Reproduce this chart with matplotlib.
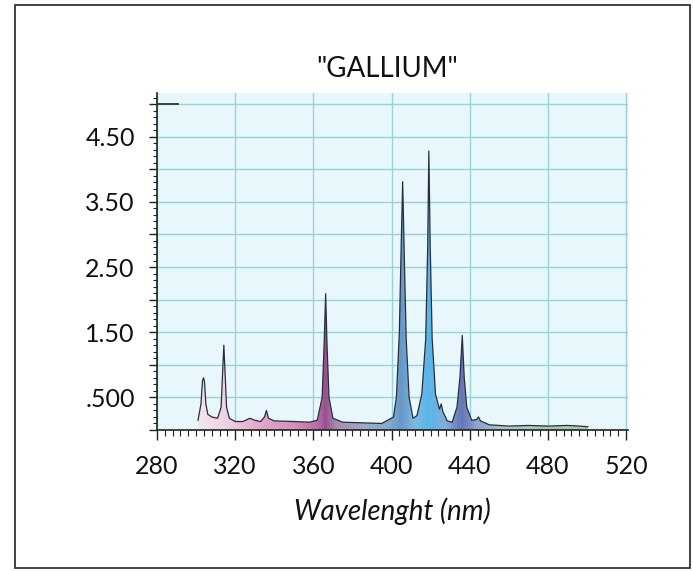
import numpy as np
import matplotlib
matplotlib.use("Agg")
import matplotlib.pyplot as plt
from matplotlib.colors import LinearSegmentedColormap
from matplotlib.patches import Rectangle

plt.rcParams['font.family'] = ['Lato', 'DejaVu Sans']

# spectrum (wavelength nm, intensity)
wavelength = [301.0, 302.5, 303.3, 303.8, 304.3, 305.0, 306.0, 308.0, 311.0,
              312.8, 313.6, 314.2, 314.8, 315.6, 317.0, 320.0, 324.0, 327.5,
              330.0, 333.0, 335.0, 336.0, 337.0, 340.0, 350.0, 358.0, 362.0,
              364.5, 365.5, 366.3, 367.0, 368.0, 370.0, 375.0, 385.0, 395.0,
              401.0, 402.5, 404.0, 405.0, 405.7, 406.5, 407.5, 409.0, 411.0,
              413.0, 415.5, 417.5, 418.5, 419.1, 419.8, 420.8, 422.5, 424.5,
              425.4, 426.3, 428.5, 431.0, 433.5, 435.0, 436.2, 437.2, 438.5,
              441.0, 443.5, 444.5, 445.5, 450.0, 460.0, 470.0, 480.0, 490.0,
              496.0, 500.5]
intensity = [0.15, 0.40, 0.76, 0.80, 0.74, 0.40, 0.24, 0.20, 0.18,
             0.35, 0.90, 1.30, 0.90, 0.35, 0.18, 0.13, 0.13, 0.18,
             0.15, 0.13, 0.20, 0.30, 0.18, 0.14, 0.13, 0.12, 0.15,
             0.50, 1.30, 2.09, 1.30, 0.50, 0.18, 0.12, 0.11, 0.10,
             0.20, 0.50, 1.50, 2.90, 3.81, 2.70, 1.40, 0.50, 0.18,
             0.22, 0.55, 1.40, 2.80, 4.28, 2.80, 1.40, 0.55, 0.32,
             0.40, 0.28, 0.14, 0.12, 0.35, 0.80, 1.45, 0.80, 0.35,
             0.15, 0.16, 0.20, 0.14, 0.08, 0.06, 0.07, 0.06, 0.07,
             0.06, 0.05]

# fill colour along the wavelength axis
color_nm = [280, 300, 318, 330, 350, 362, 366, 372, 385, 398, 405, 412,
            419, 428, 436, 444, 460, 480, 521]
color_hex = ['#f4e6ef', '#f4e6ef', '#eecbdd', '#e3a8ca', '#d08cb8', '#b46aa0',
             '#95478a', '#a886ae', '#9ea6c2', '#84a6cc', '#5f93c6', '#7ab6de',
             '#52b3e8', '#7ea9d8', '#5d6fb3', '#8a9fca', '#a9c9c2', '#9fcaa9',
             '#a8d4b0']

x_ticks = [280, 320, 360, 400, 440, 480, 520]
y_ticks = [0, 0.5, 1.0, 1.5, 2.0, 2.5, 3.0, 3.5, 4.0, 4.5, 5.0]
y_labels = ['', '.500', '', '1.50', '', '2.50', '', '3.50', '', '4.50', '']

fig = plt.figure(figsize=(6.93, 5.71), dpi=100)
ax = fig.add_axes([157 / 693, 141 / 571, 471 / 693, 337 / 571])

x0, x1, y0, y1 = 280, 521, 0, 5.17
ax.set_xlim(x0, x1)
ax.set_ylim(y0, y1)
ax.set_facecolor('#e7f7fb')

stops = [(c - x0) / (x1 - x0) for c in color_nm]
cmap = LinearSegmentedColormap.from_list('spec', list(zip(stops, color_hex)))

fill = ax.fill_between(wavelength, intensity, 0, color='none', zorder=2)
grad = np.linspace(0, 1, 600).reshape(1, -1)
img = ax.imshow(grad, extent=[x0, x1, y0, y1], aspect='auto', cmap=cmap,
                zorder=2, alpha=0.95)
img.set_clip_path(fill.get_paths()[0], transform=ax.transData)
ax.plot(wavelength, intensity, color='#2b2d3c', lw=0.9, zorder=3)

ax.set_xticks(x_ticks)
ax.set_xticks(np.arange(280, 521, 4), minor=True)
ax.set_yticks(y_ticks, labels=y_labels)
ax.set_yticks(np.arange(0, 5.15, 0.1), minor=True)

ax.grid(True, which='major', color='#9dd2d5', lw=1.0)
ax.set_axisbelow(True)
# short dark marker at the top of the y scale
ax.axhline(y_ticks[-1], xmin=0, xmax=0.045, color='#333333', lw=1.3, zorder=3)

for s in ['top', 'right']:
    ax.spines[s].set_visible(False)
for s in ['left', 'bottom']:
    ax.spines[s].set_color('#222222')
    ax.spines[s].set_linewidth(1.2)

ax.tick_params(axis='x', which='major', direction='out', length=7, width=1.0,
               labelsize=18, pad=11, colors='#222222')
ax.tick_params(axis='x', which='minor', direction='out', length=4, width=0.8,
               colors='#222222')
ax.tick_params(axis='y', which='major', direction='out', length=6, width=1.0,
               labelsize=18, pad=10, colors='#222222')
ax.tick_params(axis='y', which='minor', direction='out', length=3, width=0.8,
               colors='#222222')
for lab in ax.get_xticklabels() + ax.get_yticklabels():
    lab.set_color('#111111')

ax.set_xlabel('Wavelenght (nm)', fontsize=20, style='italic', labelpad=14,
              color='#111111')
fig.text(387 / 693, 1 - 69 / 571, '"GALLIUM"', fontsize=20, ha='center',
         va='center', color='#111111')

# outer frame
fig.patches.append(Rectangle((15 / 693, 3 / 571), 675 / 693, 563 / 571,
                             transform=fig.transFigure, fill=False,
                             edgecolor='#333333', lw=1.3))

fig.savefig('out.png', dpi=100)
